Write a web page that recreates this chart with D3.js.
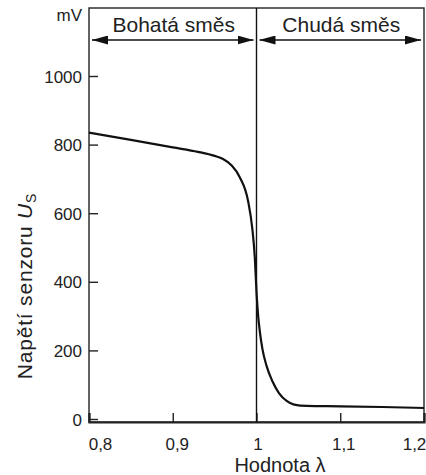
<!DOCTYPE html>
<html>
<head>
<meta charset="utf-8">
<script src="https://cdn.jsdelivr.net/npm/d3@7"></script>
<style>
  body { margin: 0; background: #fff; }
  svg text { font-family: "Liberation Sans", Arial, sans-serif; fill: #222; }
</style>
</head>
<body>
<div id="chart"></div>
<script>
"use strict";

// lambda values and sensor voltage (mV)
const lambdaVals = [0.8, 0.85, 0.9, 0.93, 0.95, 0.96, 0.97, 0.98, 0.99, 0.995,
  0.998, 1.0, 1.002, 1.004, 1.007, 1.012, 1.019, 1.027, 1.036, 1.045,
  1.06, 1.1, 1.15, 1.2];
const voltage = [835, 814, 792, 779, 767, 758, 740, 705, 635, 555,
  470, 370, 300, 255, 205, 155, 110, 75, 53, 42,
  38, 37, 35, 32];

const xTicks = [0.8, 0.9, 1.0, 1.1, 1.2];
const xTickLabels = ["0,8", "0,9", "1", "1,1", "1,2"];
const yTicks = [0, 200, 400, 600, 800, 1000];

const regions = [
  { name: "Bohatá směs", from: 0.8, to: 1.0 },
  { name: "Chudá směs", from: 1.0, to: 1.2 }
];

const W = 426, H = 475;
const plotL = 89, plotR = 424, plotT = 8, plotB = 422;

const svg = d3.select("#chart").append("svg")
  .attr("width", W)
  .attr("height", H);

const x = d3.scaleLinear().domain([0.8, 1.2]).range([plotL, plotR]);
// zero sits a little above the bottom frame line in the original
const y = d3.scaleLinear().domain([0, 1200]).range([419, 7.4]);

// arrow heads
const defs = svg.append("defs");
defs.append("marker")
  .attr("id", "head")
  .attr("viewBox", "0 0 10 10")
  .attr("refX", 10).attr("refY", 5)
  .attr("markerWidth", 16).attr("markerHeight", 9)
  .attr("markerUnits", "userSpaceOnUse")
  .attr("orient", "auto-start-reverse")
  .attr("preserveAspectRatio", "none")
  .append("path")
  .attr("d", "M0,0 L10,5 L0,10 Z")
  .attr("fill", "#111");

// frame
svg.append("rect")
  .attr("x", plotL).attr("y", plotT)
  .attr("width", plotR - plotL).attr("height", plotB - plotT)
  .attr("fill", "none")
  .attr("stroke", "#222")
  .attr("stroke-width", 1.4);

// x axis
const xAxis = svg.append("g")
  .attr("transform", `translate(0,${plotB})`)
  .call(d3.axisBottom(x).tickValues(xTicks).tickSize(-9)
    .tickFormat((d, i) => xTickLabels[i]));
xAxis.select(".domain").attr("stroke", "#222").attr("stroke-width", 2.2);
xAxis.selectAll(".tick line").attr("stroke", "#222").attr("stroke-width", 1.4);
xAxis.selectAll(".tick text")
  .attr("y", 28)
  .attr("dy", 0)
  .attr("font-size", 17)
  .attr("dx", (d, i) => [11, 4, 1, 3, -10][i]);

// y axis
const yAxis = svg.append("g")
  .attr("transform", `translate(${plotL},0)`)
  .call(d3.axisLeft(y).tickValues(yTicks).tickSize(-9).tickPadding(7)
    .tickFormat(d3.format("d")));
yAxis.select(".domain").remove();
yAxis.selectAll(".tick line").attr("stroke", "#222").attr("stroke-width", 1.4);
yAxis.selectAll(".tick text").attr("font-size", 17).attr("dy", "0.36em");

svg.append("text")
  .attr("x", 82).attr("y", 21)
  .attr("text-anchor", "end")
  .attr("font-size", 17)
  .text("mV");

// line at lambda = 1
svg.append("line")
  .attr("x1", x(1)).attr("x2", x(1))
  .attr("y1", plotT).attr("y2", plotB)
  .attr("stroke", "#111")
  .attr("stroke-width", 1.4);

// region arrows and names
const arrowY = 40;
svg.selectAll(".region-arrow")
  .data(regions)
  .enter()
  .append("line")
  .attr("class", "region-arrow")
  .attr("x1", d => x(d.from) + 3)
  .attr("x2", d => x(d.to) - 3)
  .attr("y1", arrowY).attr("y2", arrowY)
  .attr("stroke", "#111")
  .attr("stroke-width", 1.6)
  .attr("marker-start", "url(#head)")
  .attr("marker-end", "url(#head)");

svg.selectAll(".region-name")
  .data(regions)
  .enter()
  .append("text")
  .attr("class", "region-name")
  .attr("x", d => (x(d.from) + x(d.to)) / 2 + 1)
  .attr("y", 32)
  .attr("text-anchor", "middle")
  .attr("font-size", 21)
  .text(d => d.name);

// sensor curve
const line = d3.line()
  .x((d, i) => x(lambdaVals[i]))
  .y(d => y(d))
  .curve(d3.curveMonotoneX);

svg.append("path")
  .datum(voltage)
  .attr("d", line)
  .attr("fill", "none")
  .attr("stroke", "#111")
  .attr("stroke-width", 2.2);

// axis titles
const yTitle = svg.append("text")
  .attr("transform", "translate(32,286) rotate(-90)")
  .attr("text-anchor", "middle")
  .attr("font-size", 21)
  .attr("letter-spacing", 0.8);
yTitle.append("tspan").text("Napětí senzoru  ");
yTitle.append("tspan").attr("font-style", "italic").text("U");
yTitle.append("tspan").attr("font-size", 14).attr("dy", 4).text("S");

svg.append("text")
  .attr("x", 280).attr("y", 472)
  .attr("text-anchor", "middle")
  .attr("font-size", 20)
  .text("Hodnota λ");
</script>
</body>
</html>
